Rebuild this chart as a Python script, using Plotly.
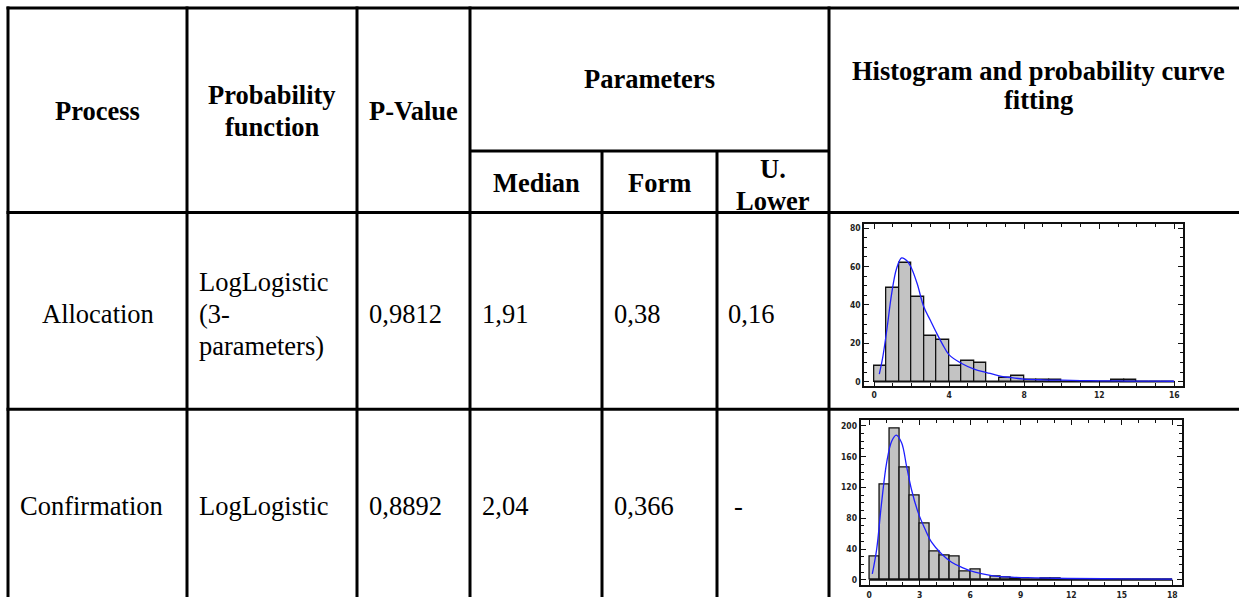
import plotly.graph_objects as go

W, H = 1239, 600

# ---------------- table text ----------------
head_process = "Process"
head_function = ["Probability", "function"]
head_pvalue = "P-Value"
head_params = "Parameters"
head_median = "Median"
head_form = "Form"
head_lower = ["U.", "Lower"]
head_hist = ["Histogram and probability curve", "fitting"]

processes = ["Allocation", "Confirmation"]
functions = [["LogLogistic", "(3-", "parameters)"], ["LogLogistic"]]
p_values = ["0,9812", "0,8892"]
medians = ["1,91", "2,04"]
forms = ["0,38", "0,366"]
lower_bounds = ["0,16", "-"]

# ---------------- histogram data ----------------
alloc_bin_width = 2 / 3
alloc_counts = [8, 49, 62, 44, 24, 22, 8, 11, 10, 0, 2, 3,
                1, 1, 1, 0, 0, 0, 0, 1, 1, 0, 0, 0]
alloc_curve_x = [0.28, 0.45, 0.68, 0.94, 1.2, 1.47, 1.75, 2.0, 2.3, 2.65, 3.0,
                 3.3, 3.65, 4.0, 4.67, 5.33, 6.0, 6.67, 7.33, 8.0, 9.0, 10.0,
                 11.0, 12.0, 13.0, 14.0, 15.0, 16.0]
alloc_curve_y = [4, 12, 27, 46, 59, 64.5, 63, 59, 51, 39, 32,
                 26, 19.5, 14, 9.5, 6.6, 4.8, 3.1, 2.1, 1.4, 1.0, 0.8,
                 0.6, 0.5, 0.4, 0.35, 0.3, 0.25]

conf_bin_width = 0.6
conf_counts = [30, 124, 197, 146, 110, 73, 37, 32, 30, 11,
               14, 1, 5, 3, 2, 1, 1, 2, 2, 1,
               1, 1, 1, 1, 0, 1, 0, 0, 0, 0]
conf_curve_x = [0.18, 0.44, 0.73, 1.03, 1.33, 1.6, 1.92, 2.22, 2.51, 2.91, 3.31,
                3.7, 4.3, 4.89, 5.49, 6.28, 7.27, 8.46, 9.84, 11.8, 14.8, 18.0]
conf_curve_y = [7.7, 40, 100, 152, 180, 188, 178, 147, 117, 87, 66,
                49, 33.5, 22.8, 16.3, 9.9, 5.6, 3.4, 2.6, 1.7, 1.3, 0.9]

SERIF = "Liberation Serif"
NARROW = "Liberation Sans Narrow, DejaVu Sans Condensed, Liberation Sans, sans-serif"
TXT = 26.5


def px(x):
    return x / W


def py(y):
    return 1 - y / H


fig = go.Figure()


def add_hist(counts, width, cx, cy, xaxis, yaxis):
    centers = [(i + 0.5) * width for i in range(len(counts))]
    fig.add_trace(go.Bar(
        x=centers, y=counts, width=[width] * len(counts),
        marker=dict(color="#c3c3c3", line=dict(color="#111111", width=1.3)),
        xaxis=xaxis, yaxis=yaxis, showlegend=False, hoverinfo="skip"))
    edge_end = len(counts) * width
    fig.add_trace(go.Scatter(
        x=[0, edge_end], y=[0, 0], mode="lines",
        line=dict(color="#111111", width=1.6),
        xaxis=xaxis, yaxis=yaxis, showlegend=False, hoverinfo="skip"))
    fig.add_trace(go.Scatter(
        x=cx, y=cy, mode="lines", line=dict(color="#1f1fff", width=1.3, shape="spline"),
        xaxis=xaxis, yaxis=yaxis, showlegend=False, hoverinfo="skip"))


add_hist(alloc_counts, alloc_bin_width, alloc_curve_x, alloc_curve_y, "x", "y")
add_hist(conf_counts, conf_bin_width, conf_curve_x, conf_curve_y, "x2", "y2")

tickfont = dict(family=NARROW, size=8.5, color="#222222", weight="bold")
axis_common = dict(
    showgrid=False, zeroline=False, showline=True, linecolor="#111111", linewidth=2,
    mirror="ticks", ticks="inside", ticklen=5, tickwidth=1.3, tickcolor="#111111",
    tickfont=tickfont, fixedrange=True)

fig.update_layout(
    width=W, height=H, autosize=False,
    margin=dict(l=0, r=0, t=0, b=0),
    paper_bgcolor="white", plot_bgcolor="white",
    font=dict(family=SERIF),
    bargap=0,
    xaxis=dict(domain=[px(864.3), px(1183.3)], range=[-0.52, 16.48], anchor="y",
               tick0=0, dtick=4,
               minor=dict(ticks="inside", dtick=1, ticklen=3, tickcolor="#111111", tickwidth=1),
               **axis_common),
    yaxis=dict(domain=[py(387.3), py(224.4)], range=[-2.07, 82.2], anchor="x",
               tick0=0, dtick=20,
               minor=dict(ticks="inside", dtick=5, ticklen=3, tickcolor="#111111", tickwidth=1),
               **axis_common),
    xaxis2=dict(domain=[px(860.7), px(1181.7)], range=[-0.51, 18.56], anchor="y2",
                tick0=0, dtick=3,
                minor=dict(ticks="inside", dtick=1, ticklen=3, tickcolor="#111111", tickwidth=1),
                **axis_common),
    yaxis2=dict(domain=[py(588.3), py(422.3)], range=[-7.2, 207], anchor="x2",
                tick0=0, dtick=40,
                minor=dict(ticks="inside", dtick=10, ticklen=3, tickcolor="#111111", tickwidth=1),
                **axis_common),
)

# ---------------- table rules ----------------
LW = 3
shapes = []


def hline(y, x0, x1):
    shapes.append(dict(type="line", xref="paper", yref="paper",
                       x0=px(x0), x1=px(x1), y0=py(y), y1=py(y),
                       line=dict(color="black", width=LW)))


def vline(x, y0, y1):
    shapes.append(dict(type="line", xref="paper", yref="paper",
                       x0=px(x), x1=px(x), y0=py(y0), y1=py(y1),
                       line=dict(color="black", width=LW)))


top_y, sub_y, body_y, row_y = 7, 151, 213, 411

hline(top_y, 6.5, W)
hline(sub_y, 470, 829)
hline(body_y, 6.5, W)
hline(row_y, 6.5, W)
for xv in [8, 187, 357, 470, 829]:
    vline(xv, top_y - 1.5, H)
for xv in [602, 717]:
    vline(xv, sub_y, H)

fig.update_layout(shapes=shapes)

# ---------------- table text ----------------
annotations = []


def text(s, x, y, anchor="center", bold=False, size=TXT):
    annotations.append(dict(text=s, x=px(x), y=py(y), xref="paper", yref="paper",
                            xanchor=anchor, yanchor="middle", showarrow=False,
                            font=dict(family=SERIF, size=size, color="black",
                                      weight="bold" if bold else "normal")))


text(head_process, 97.5, 111, bold=True)
text(head_function[0], 272, 95, bold=True)
text(head_function[1], 272, 127, bold=True)
text(head_pvalue, 413.5, 111, bold=True)
text(head_params, 649.5, 79, bold=True)
text(head_median, 536, 183, bold=True)
text(head_form, 659.5, 183, bold=True)
text(head_lower[0], 773, 169, bold=True)
text(head_lower[1], 773, 201, bold=True)
text(head_hist[0], 1038, 70, bold=True)
text(head_hist[1], 1038, 100, bold=True)

row_centers = [315, 508]
text(processes[0], 97.5, row_centers[0])
text(processes[1], 18, row_centers[1], anchor="left")
for r, yc in enumerate(row_centers):
    lines = functions[r]
    n = len(lines)
    for k, line in enumerate(lines):
        text(line, 197, yc + (k - (n - 1) / 2) * 32, anchor="left")
    text(p_values[r], 367, yc, anchor="left")
    text(medians[r], 480, yc, anchor="left")
    text(forms[r], 612, yc, anchor="left")
    text(lower_bounds[r], 726 if lower_bounds[r] != "-" else 732, yc, anchor="left")

fig.update_layout(annotations=annotations)

fig.write_html("out.html", config={"displayModeBar": False})
